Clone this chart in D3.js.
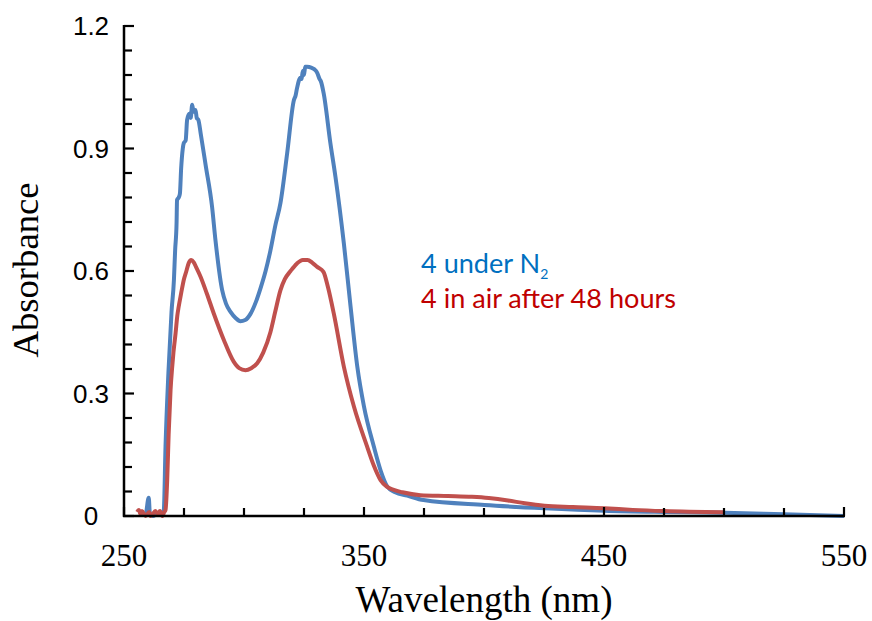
<!DOCTYPE html>
<html><head><meta charset="utf-8">
<script src="https://cdn.jsdelivr.net/npm/d3@7"></script>
<style>body{margin:0;background:#fff}</style>
</head><body>
<svg id="c" width="872" height="621"></svg>
<script>
const xTicks = [250, 350, 450, 550];
const yTicks = [0, 0.3, 0.6, 0.9, 1.2];
const xMinorStep = 25;
const yMinorStep = 0.06;
const seriesNames = ["4 under N", "4 in air after 48 hours"];
const xTitle = "Wavelength (nm)";
const yTitle = "Absorbance";

const blueData = [[257,0.005],[259,0.005],[260.3,0.045],[260.8,0.005],[262,0.0],[264,0.005],[266,0.005],[266.6,0.015],[267.3,0.17],[268.5,0.35],[269.8,0.5],[270.8,0.578],[271.3,0.65],[271.9,0.717],[272.1,0.774],[272.8,0.78],[273.3,0.79],[273.8,0.85],[274.5,0.90],[274.9,0.913],[275.7,0.92],[276.3,0.97],[277.2,0.985],[277.8,0.975],[278.4,1.007],[279,0.99],[279.8,0.994],[280.3,0.975],[281,0.97],[282,0.935],[284,0.86],[286.7,0.757],[288.1,0.676],[290.9,0.553],[292.5,0.52],[294.4,0.50],[296.5,0.485],[298.5,0.477],[300.5,0.48],[302.7,0.495],[305,0.525],[307,0.56],[309,0.60],[311,0.65],[313,0.71],[315.2,0.767],[318,0.889],[320.8,1.019],[321.5,1.03],[322,1.045],[323.5,1.073],[324,1.07],[324.5,1.09],[325,1.08],[325.5,1.10],[326.3,1.10],[328,1.098],[330,1.09],[330.5,1.085],[331.5,1.07],[332,1.065],[333.2,1.035],[336,0.913],[338.1,0.831],[341.6,0.668],[344.4,0.513],[347.2,0.366],[350,0.268],[354.1,0.17],[357,0.11],[359.7,0.072],[363,0.058],[368,0.05],[374.8,0.039],[400.2,0.027],[425.2,0.019],[450.2,0.013],[475,0.01],[500.2,0.008],[525,0.004],[550,0.0]];

const redData = [[255.5,0.01],[256.2,0.015],[256.8,0.005],[257.5,0.012],[259,0.0],[260.5,0.01],[261,0.0],[262,0.005],[263,0.012],[264,0.005],[265,0.012],[266,0.0],[266.8,0.01],[267.3,0.015],[268,0.088],[268.6,0.2],[269.4,0.309],[270.1,0.366],[270.6,0.40],[271.5,0.448],[272.2,0.49],[272.8,0.513],[273.8,0.545],[274.9,0.578],[276,0.60],[277,0.62],[278,0.627],[279,0.622],[280,0.61],[281.9,0.586],[284.5,0.545],[287.4,0.496],[291.6,0.431],[295.7,0.378],[298,0.362],[300.6,0.357],[303,0.362],[305.5,0.374],[308,0.40],[311,0.45],[313,0.50],[315.2,0.553],[317,0.58],[319.4,0.60],[322,0.618],[324.5,0.627],[326.5,0.627],[328.5,0.62],[330.5,0.61],[333.1,0.598],[335,0.56],[337.4,0.496],[341.6,0.366],[345.8,0.268],[351.3,0.17],[354,0.125],[356.9,0.088],[359.5,0.072],[362.4,0.064],[366,0.058],[373.5,0.051],[385,0.049],[395,0.047],[402,0.044],[410,0.038],[417,0.031],[425.2,0.025],[437,0.022],[450.2,0.019],[462,0.015],[475,0.012],[500,0.009]];

const svg = d3.select("#c");
const x = d3.scaleLinear().domain([250, 550]).range([124, 844]);
const y = d3.scaleLinear().domain([0, 1.2]).range([516, 26]);

function fit(sel, target) {
  const n = sel.node();
  const fs = parseFloat(sel.attr("font-size"));
  const w = n.getComputedTextLength();
  sel.attr("font-size", (fs * target / w).toFixed(2));
}

// lines
const line = d3.line().x(d => x(d[0])).y(d => y(d[1])).curve(d3.curveMonotoneX);
svg.append("path").datum(blueData).attr("d", line).attr("fill", "none")
  .attr("stroke", "#4F81BD").attr("stroke-width", 4).attr("stroke-linejoin", "round");
svg.append("path").datum(redData).attr("d", line).attr("fill", "none")
  .attr("stroke", "#C0504D").attr("stroke-width", 4).attr("stroke-linejoin", "round");

// axes
const yMinor = d3.range(0, 1.2001, yMinorStep);
const xMinor = d3.range(250, 550.01, xMinorStep);
const g = svg.append("g");
g.selectAll(".ym").data(yMinor).join("line")
  .attr("x1", 124).attr("x2", d => yTicks.some(t => Math.abs(t - d) < 1e-6) ? 134 : 132)
  .attr("y1", d => y(d)).attr("y2", d => y(d)).attr("stroke", "#000").attr("stroke-width", 2.2);
g.selectAll(".xm").data(xMinor).join("line")
  .attr("y1", 516).attr("y2", d => xTicks.includes(d) ? 507 : 508)
  .attr("x1", d => x(d)).attr("x2", d => x(d)).attr("stroke", "#000").attr("stroke-width", 2.2);
g.append("line").attr("x1", 124).attr("x2", 124).attr("y1", y(1.2) - 1).attr("y2", 517)
  .attr("stroke", "#000").attr("stroke-width", 2.5);
g.append("line").attr("x1", 123).attr("x2", x(550) + 1).attr("y1", 516).attr("y2", 516)
  .attr("stroke", "#000").attr("stroke-width", 2.5);

// tick labels
svg.selectAll(".yl").data(yTicks).join("text")
  .attr("x", 91).attr("y", d => y(d)).attr("dy", "0.36em")
  .attr("text-anchor", "middle").attr("font-family", "Liberation Sans, Arial, sans-serif")
  .attr("font-size", 26).attr("fill", "#000")
  .text(d => d === 0 ? "0" : d3.format(".1f")(d));
svg.selectAll(".xl").data(xTicks).join("text")
  .attr("x", d => x(d)).attr("y", 566)
  .attr("text-anchor", "middle").attr("font-family", "Liberation Serif, Times New Roman, serif")
  .attr("font-size", 31).attr("fill", "#000")
  .text(d => d);

// axis titles
const xt = svg.append("text").attr("x", 484).attr("y", 612).attr("text-anchor", "middle")
  .attr("font-family", "Liberation Serif, Times New Roman, serif").attr("font-size", 34).text(xTitle);
fit(xt, 257);
const yt = svg.append("text").attr("transform", "translate(38,270) rotate(-90)").attr("text-anchor", "middle")
  .attr("font-family", "Liberation Serif, Times New Roman, serif").attr("font-size", 34).text(yTitle);
fit(yt, 175);

// series labels
const t1 = svg.append("text").attr("x", 421).attr("y", 273).attr("font-family", "Lato, Open Sans, sans-serif")
  .attr("font-size", 21).attr("fill", "#0070C0");
t1.append("tspan").text(seriesNames[0]);
t1.append("tspan").attr("font-size", 14).attr("dy", 6).text("2");
const t2 = svg.append("text").attr("x", 421).attr("y", 308).attr("font-family", "Lato, Open Sans, sans-serif")
  .attr("font-size", 21).attr("fill", "#C00000").text(seriesNames[1]);
fit(t2, 255);
t1.attr("font-size", t2.attr("font-size"));
</script>
</body></html>
